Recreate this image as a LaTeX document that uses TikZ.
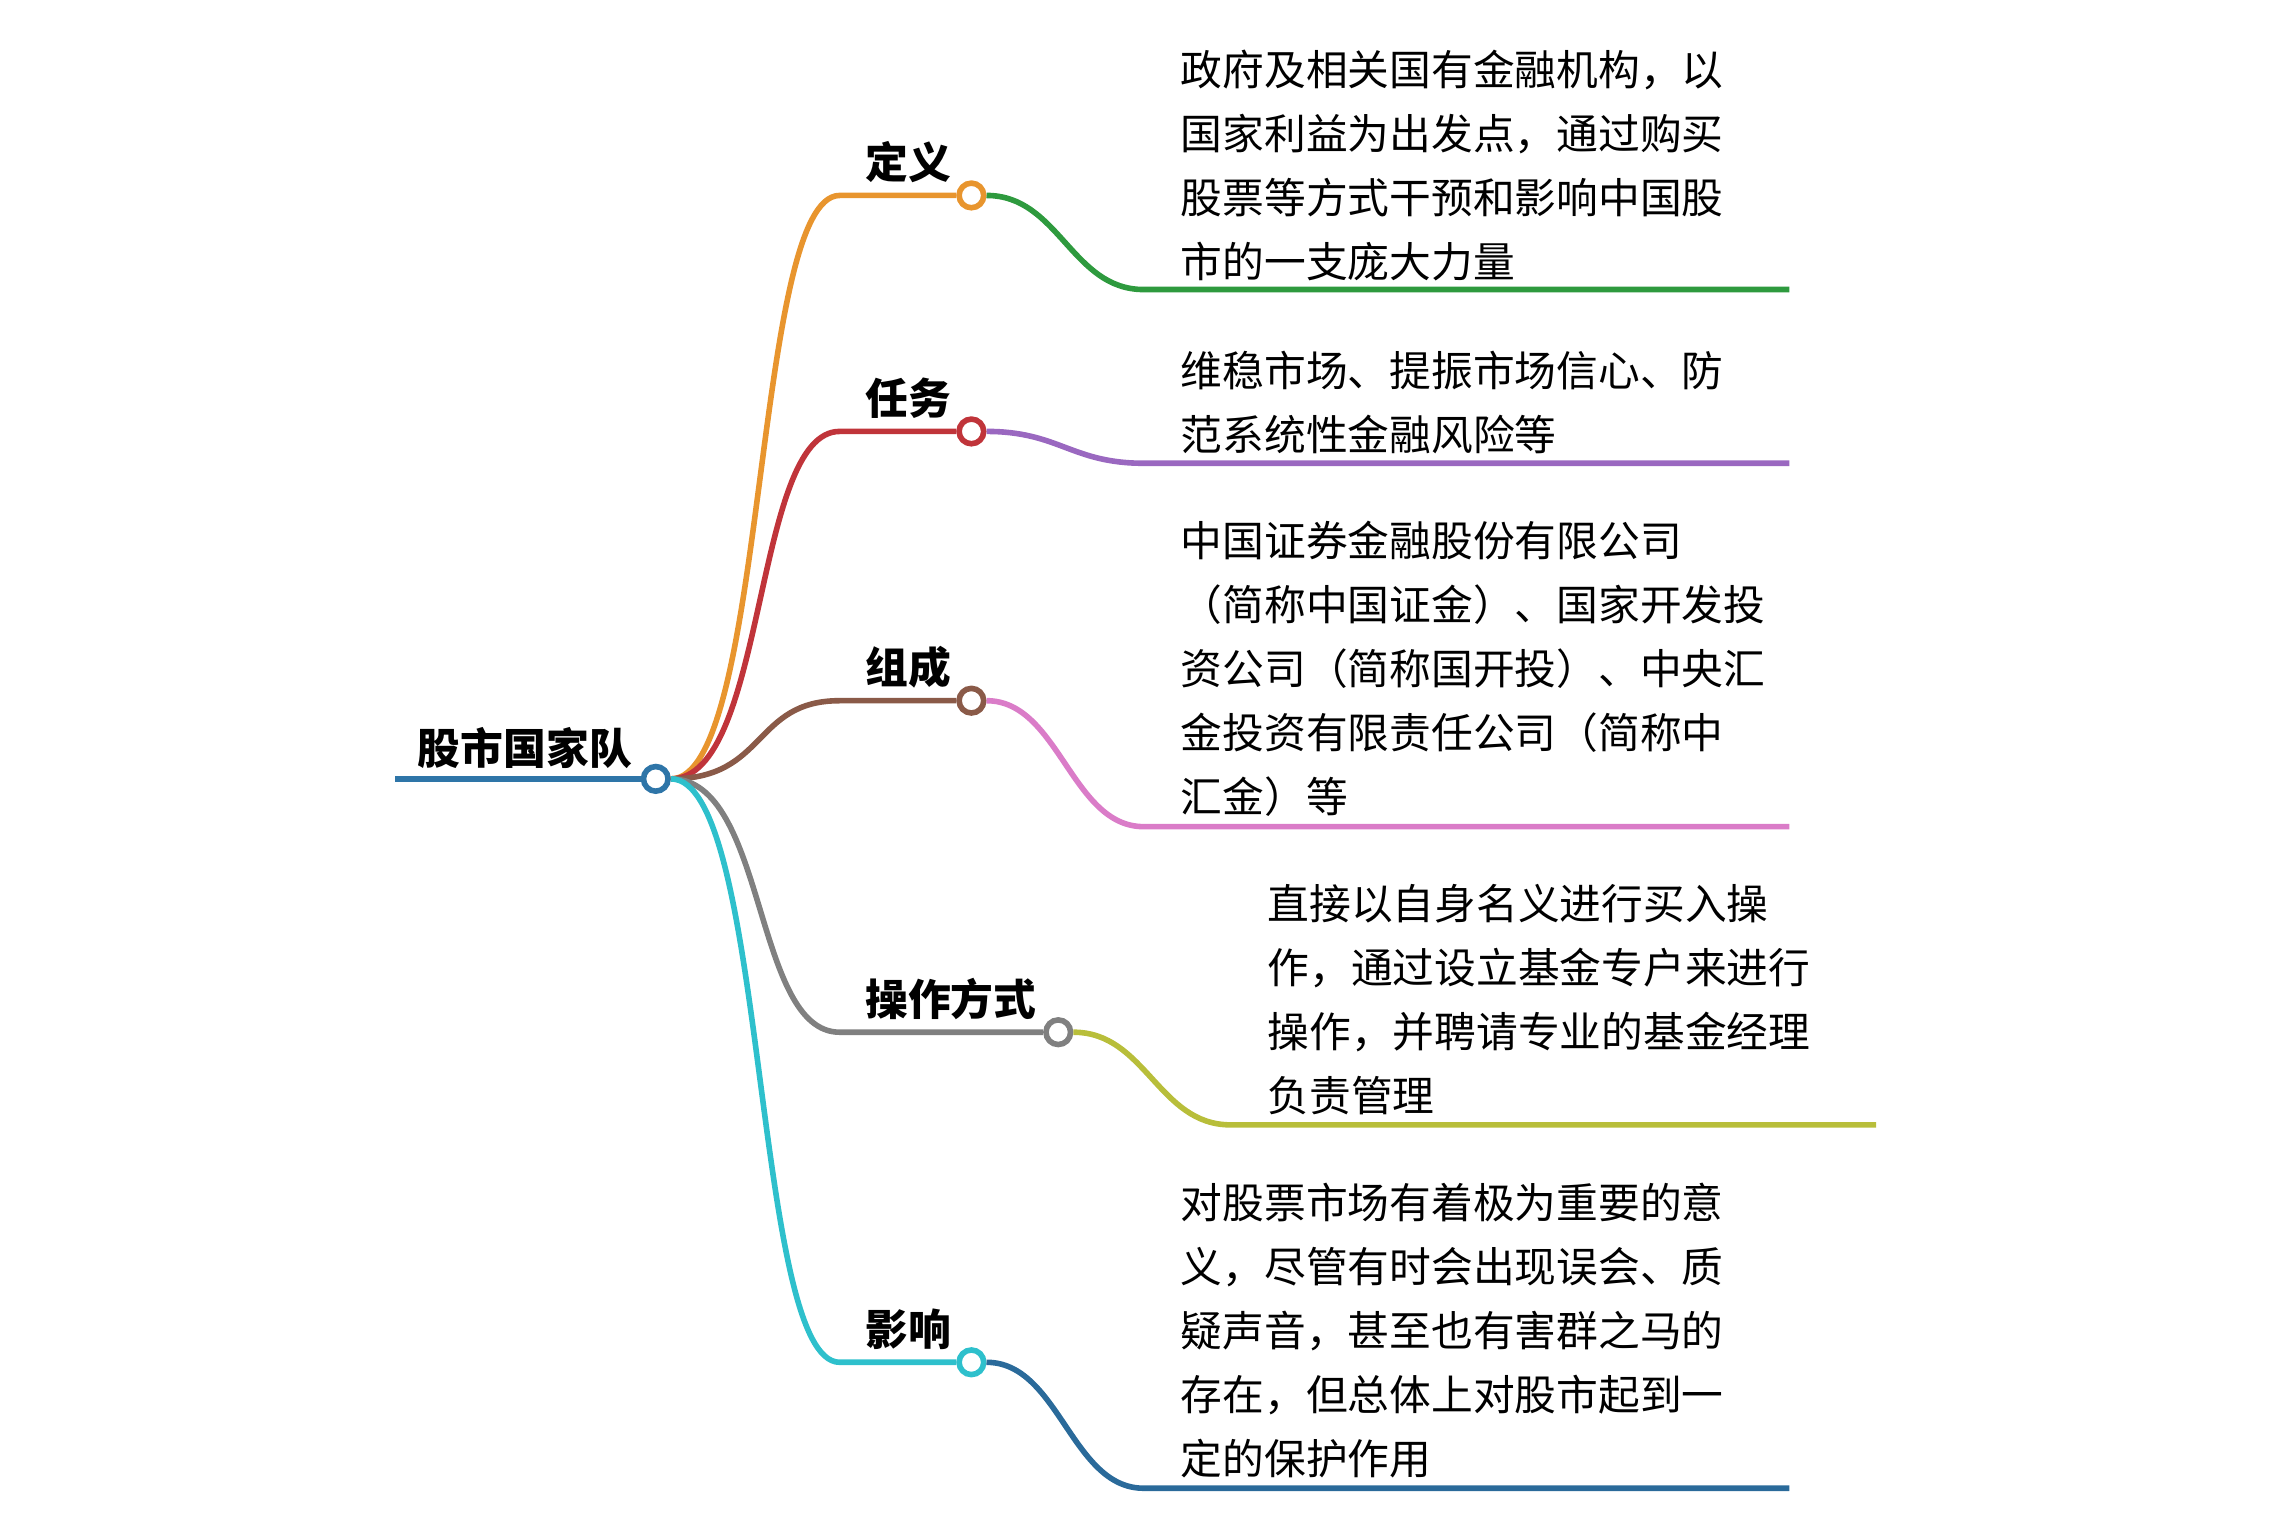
\documentclass[tikz,border=0pt]{standalone}
\usepackage{fontspec}
\usetikzlibrary{calc}
\setmainfont{Noto Sans CJK SC}
\begin{document}
\begin{tikzpicture}[x=0.01cm,y=-0.01cm,
  dot/.style={circle,draw=#1,fill=white,line width=1.1pt,inner sep=0pt,minimum size=0.17cm},
  lbl/.style={font=\fontsize{8.4pt}{10pt}\selectfont\bfseries,anchor=south west,inner sep=0pt},
  leaf/.style={font=\fontsize{8.2pt}{12.6pt}\selectfont,anchor=south west,align=left,inner sep=0pt},
  br/.style={draw=#1,line width=1.1pt}]
\useasboundingbox (0,0) rectangle (1568,1057);
\definecolor{cblue}{HTML}{2E75A8}
\definecolor{corange}{HTML}{E8952E}
\definecolor{cgreen}{HTML}{2E9A3E}
\definecolor{cred}{HTML}{C0343A}
\definecolor{cpurple}{HTML}{9A68C0}
\definecolor{cbrown}{HTML}{8A5A48}
\definecolor{cpink}{HTML}{DA7CC8}
\definecolor{cgray}{HTML}{808080}
\definecolor{colive}{HTML}{B8BE3A}
\definecolor{ccyan}{HTML}{2EC0CC}
\definecolor{cnavy}{HTML}{2A6A9A}
% root
\coordinate (r0) at (273,538);
\node[dot=cblue] (r) at (453,538) {};
\draw[br=cblue] (r0) -- (r.west);
\node[lbl] (rt) at (288,532) {股市国家队};
% children
\foreach \n/\y/\c/\xs/\xc in {a/135/corange/580/671, b/298/cred/580/671, c/484/cbrown/580/671, d/713/cgray/580/731, e/941/ccyan/580/671}{
  \coordinate (\n s) at (\xs,\y);
  \node[dot=\c] (\n) at (\xc,\y) {};
  \draw[br=\c] (r.east) .. controls (530,538) and (520,\y) .. (\n s) -- (\n.west);
}
\node[lbl] at (597,127) {定义};
\node[lbl] at (597,290) {任务};
\node[lbl] at (597,476) {组成};
\node[lbl] at (597,705) {操作方式};
\node[lbl] at (597,933) {影响};
% leaves
\foreach \n/\y/\c/\xs/\xe in {a/200/cgreen/790/1236, b/320/cpurple/790/1236, c/571/cpink/790/1236, d/777/colive/850/1296, e/1028/cnavy/790/1236}{
  \coordinate (\n l) at (\xs,\y);
  \coordinate (\n e) at (\xe,\y);
  \draw[br=\c] (\n.east) .. controls ($(\n.east)+(50,0)$) and ($(\n l)+(-50,0)$) .. (\n l) -- (\n e);
}
\node[leaf] (ta) at (815,195) {政府及相关国有金融机构，以\\国家利益为出发点，通过购买\\股票等方式干预和影响中国股\\市的一支庞大力量};
\node[leaf] (tb) at (815,314) {维稳市场、提振市场信心、防\\范系统性金融风险等};
\node[leaf] (tc) at (815,565) {中国证券金融股份有限公司\\（简称中国证金）、国家开发投\\资公司（简称国开投）、中央汇\\金投资有限责任公司（简称中\\汇金）等};
\node[leaf] (td) at (875,771) {直接以自身名义进行买入操\\作，通过设立基金专户来进行\\操作，并聘请专业的基金经理\\负责管理};
\node[leaf] (te) at (815,1022) {对股票市场有着极为重要的意\\义，尽管有时会出现误会、质\\疑声音，甚至也有害群之马的\\存在，但总体上对股市起到一\\定的保护作用};
\end{tikzpicture}
\end{document}
